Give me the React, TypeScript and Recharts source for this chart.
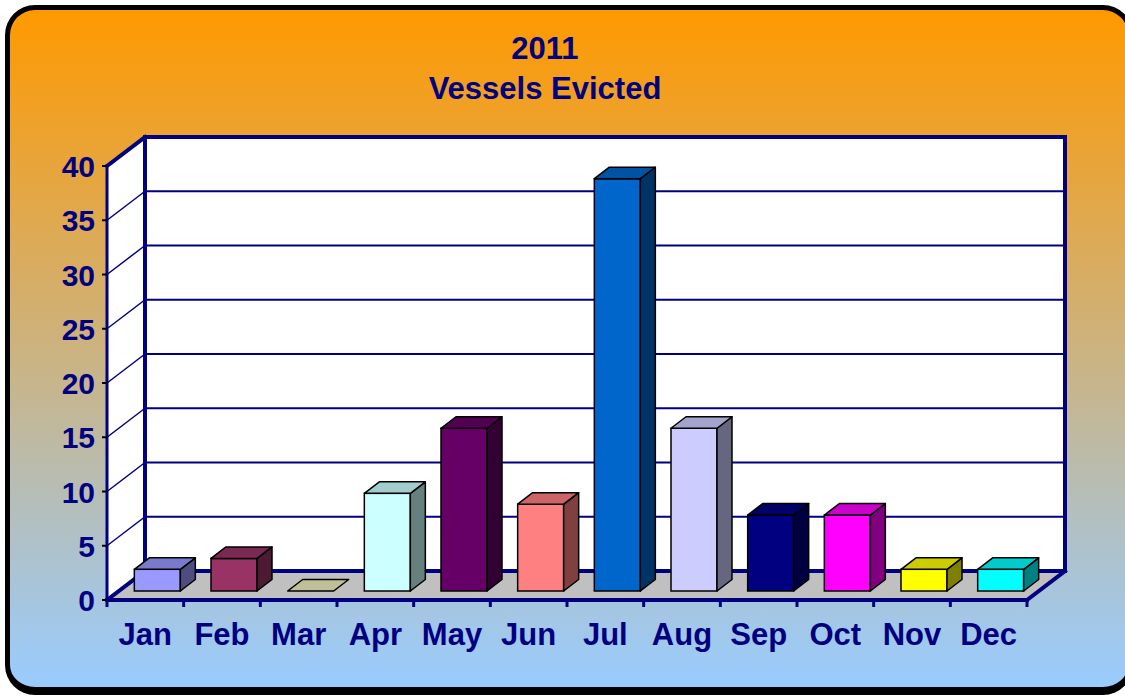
import React from 'react';
import { BarChart, Bar, XAxis, YAxis, CartesianGrid } from 'recharts';

const months = ['Jan', 'Feb', 'Mar', 'Apr', 'May', 'Jun', 'Jul', 'Aug', 'Sep', 'Oct', 'Nov', 'Dec'];
const evicted = [2, 3, 0, 9, 15, 8, 38, 15, 7, 7, 2, 2];
const barColors = ['#9999FF', '#993366', '#FFFFCC', '#CCFFFF', '#660066', '#FF8080', '#0066CC', '#CCCCFF', '#000080', '#FF00FF', '#FFFF00', '#00FFFF'];
const yTicks = [0, 5, 10, 15, 20, 25, 30, 35, 40];
const titleLines = ['2011', 'Vessels Evicted'];

const data = months.map((m, i) => ({ month: m, value: evicted[i] }));

const W = 1125;
const H = 696;
const PL = 107; // plot left (front plane)
const PR = 1027; // plot right
const PT = 166; // plot top
const PB = 600; // plot bottom
const DX = 38; // wall depth offset
const DY = -29;
const BAR_SHIFT_X = 12;
const BAR_SHIFT_Y = -9;
const BAR_DX = 15;
const BAR_DY = -11.5;
const NAVY = '#000080';
const FONT = '"Liberation Sans", Arial, sans-serif';
const Y_AXIS_W = 60;
const X_AXIS_H = 30;

function shade(hex: string, f: number) {
  const n = parseInt(hex.slice(1), 16);
  const r = Math.round(((n >> 16) & 255) * f);
  const g = Math.round(((n >> 8) & 255) * f);
  const b = Math.round((n & 255) * f);
  return `rgb(${r},${g},${b})`;
}

const Bar3D = (props: any) => {
  const { x, y, width, height, index } = props;
  const c = barColors[index % barColors.length];
  const fx = x + BAR_SHIFT_X;
  const fy = y + BAR_SHIFT_Y;
  const h = Math.max(0, height);
  const top = `${fx},${fy} ${fx + BAR_DX},${fy + BAR_DY} ${fx + width + BAR_DX},${fy + BAR_DY} ${fx + width},${fy}`;
  const side = `${fx + width},${fy} ${fx + width + BAR_DX},${fy + BAR_DY} ${fx + width + BAR_DX},${fy + h + BAR_DY} ${fx + width},${fy + h}`;
  return (
    <g>
      {h > 0 && <rect x={fx} y={fy} width={width} height={h} fill={c} stroke="#000" strokeWidth={1.5} />}
      {h > 0 && <polygon points={side} fill={shade(c, 0.5)} stroke="#000" strokeWidth={1.5} strokeLinejoin="round" />}
      <polygon points={top} fill={shade(c, h > 0 ? 0.8 : 0.75)} stroke="#000" strokeWidth={1.5} strokeLinejoin="round" />
    </g>
  );
};

const GridLine = (props: any) => {
  const { x1, y1, x2, index } = props;
  return (
    <g key={`g-${index}-${y1}`}>
      <line x1={x1} y1={y1} x2={x1 + DX} y2={y1 + DY} stroke={NAVY} strokeWidth={1.5} />
      <line x1={x1 + DX} y1={y1 + DY} x2={x2 + DX} y2={y1 + DY} stroke={NAVY} strokeWidth={2} />
    </g>
  );
};

const YTick = (props: any) => {
  const { y, payload } = props;
  return (
    <g>
      <line x1={PL - 5} y1={y} x2={PL} y2={y} stroke="#000" strokeWidth={2} />
      <text x={PL - 12} y={y + 11} textAnchor="end" fill={NAVY} fontFamily={FONT} fontWeight="bold" fontSize={30}>
        {payload.value}
      </text>
    </g>
  );
};

const band = (PR - PL) / months.length;

const XTick = (props: any) => {
  const { x, payload, index } = props;
  return (
    <g>
      {index === 0 && <line x1={x - band / 2} y1={PB} x2={x - band / 2} y2={PB + 7} stroke={NAVY} strokeWidth={3} />}
      <line x1={x + band / 2} y1={PB} x2={x + band / 2} y2={PB + 7} stroke={NAVY} strokeWidth={3} />
      <text x={x} y={PB + 45} textAnchor="middle" fill={NAVY} fontFamily={FONT} fontWeight="bold" fontSize={31}>
        {payload.value}
      </text>
    </g>
  );
};

export default function App() {
  const backL = PL + DX;
  const backR = PR + DX;
  const backT = PT + DY;
  const backB = PB + DY;
  return (
    <div style={{ position: 'absolute', left: 0, top: 0, width: W, height: H, overflow: 'hidden', background: '#fff' }}>
      <div
        style={{
          position: 'absolute',
          left: 5,
          top: 5,
          width: 1128,
          height: 690,
          boxSizing: 'border-box',
          borderStyle: 'solid',
          borderColor: '#000',
          borderWidth: '5px 5px 8px 5px',
          borderRadius: 30,
          background: 'linear-gradient(to bottom, #FF9900 0%, #99CCFF 100%)',
        }}
      />
      <svg width={W} height={H} style={{ position: 'absolute', left: 0, top: 0 }}>
        {/* back wall */}
        <rect x={backL} y={backT} width={backR - backL} height={backB - backT} fill="#fff" />
        {/* side wall */}
        <polygon points={`${PL},${PT} ${backL},${backT} ${backL},${backB} ${PL},${PB}`} fill="#fff" />
        {/* floor */}
        <polygon points={`${PL},${PB} ${backL},${backB} ${backR},${backB} ${PR},${PB}`} fill="#C0C0C0" />
        <g stroke={NAVY} strokeWidth={4} strokeLinecap="square" fill="none">
          <line x1={backL} y1={backT} x2={backL} y2={backB} />
          <line x1={backL} y1={backT} x2={backR} y2={backT} />
          <line x1={backR} y1={backT} x2={backR} y2={backB} />
          <line x1={backL} y1={backB} x2={backR} y2={backB} />
          <line x1={PL} y1={PT} x2={backL} y2={backT} />
          <line x1={PL} y1={PB} x2={backL} y2={backB} />
          <line x1={PR} y1={PB} x2={backR} y2={backB} />
          <line x1={PL} y1={PB} x2={PR} y2={PB} />
          <line x1={PL} y1={PT} x2={PL} y2={PB} strokeWidth={3} />
        </g>
        {titleLines.map((t, i) => (
          <text key={t} x={545} y={59 + i * 40} textAnchor="middle" fill={NAVY} fontFamily={FONT} fontWeight="bold" fontSize={31}>
            {t}
          </text>
        ))}
      </svg>
      <div style={{ position: 'absolute', left: 0, top: 0 }}>
        <BarChart
          width={W}
          height={H}
          data={data}
          margin={{ top: PT, left: PL - Y_AXIS_W, right: W - PR, bottom: H - PB - X_AXIS_H }}
          barCategoryGap="20%"
        >
          <CartesianGrid vertical={false} horizontal={(p: any) => <GridLine {...p} />} />
          <XAxis dataKey="month" axisLine={false} tickLine={false} height={X_AXIS_H} tick={<XTick />} interval={0} />
          <YAxis
            domain={[0, 40]}
            ticks={yTicks}
            width={Y_AXIS_W}
            axisLine={false}
            tickLine={false}
            tick={<YTick />}
            interval={0}
          />
          <Bar dataKey="value" shape={<Bar3D />} isAnimationActive={false} />
        </BarChart>
      </div>
    </div>
  );
}
